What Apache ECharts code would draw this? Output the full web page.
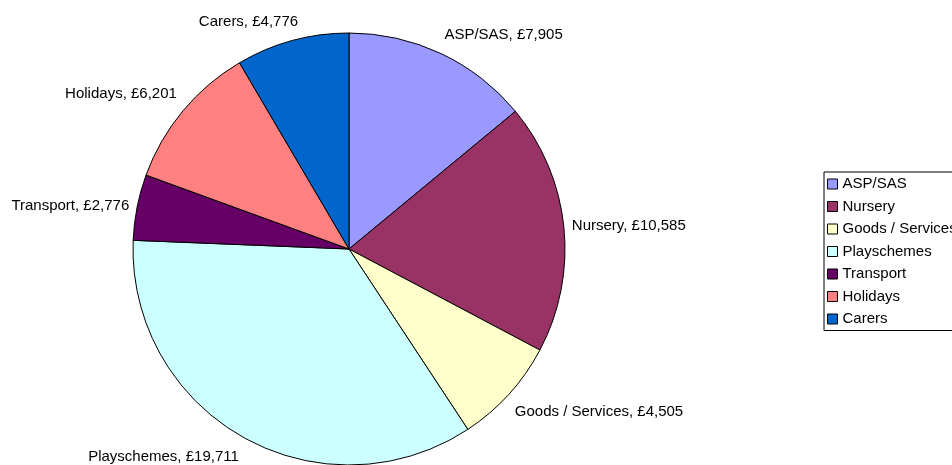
<!DOCTYPE html>
<html>
<head>
<meta charset="utf-8">
<script src="https://cdn.jsdelivr.net/npm/echarts@6/dist/echarts.min.js"></script>
<style>
html,body{margin:0;padding:0;background:#fff;}
#chart{width:952px;height:465px;}
</style>
</head>
<body>
<div id="chart"></div>
<script>
const categories = ['ASP/SAS', 'Nursery', 'Goods / Services', 'Playschemes', 'Transport', 'Holidays', 'Carers'];
const values = [7905, 10585, 4505, 19711, 2776, 6201, 4776];
const colors = ['#9999FF', '#993366', '#FFFFCC', '#CCFFFF', '#660066', '#FF8080', '#0066CC'];

const CX = 349, CY = 249, R = 216;
const total = values.reduce((a, b) => a + b, 0);
const fmt = v => '£' + v.toLocaleString('en-GB');
const FONT = 'Liberation Sans, Arial, sans-serif';

const chart = echarts.init(document.getElementById('chart'), null, {renderer: 'canvas'});
chart.setOption({
  animation: false,
  backgroundColor: '#ffffff',
  textStyle: {fontFamily: FONT},
  legend: {
    orient: 'vertical',
    left: 824,
    top: 172,
    data: categories,
    icon: 'rect',
    itemWidth: 10,
    itemHeight: 10,
    itemGap: 7.5,
    padding: [4.5, 40, 4, 3],
    borderColor: '#000',
    borderWidth: 1,
    itemStyle: {borderColor: '#000', borderWidth: 1},
    textStyle: {fontSize: 15, lineHeight: 15, color: '#000', fontFamily: FONT},
    selectedMode: false
  },
  series: [{
    type: 'pie',
    center: [CX, CY],
    radius: [0, R],
    startAngle: 90,
    clockwise: true,
    avoidLabelOverlap: false,
    data: categories.map((c, i) => ({name: c, value: values[i], itemStyle: {color: colors[i]}})),
    itemStyle: {borderColor: '#000', borderWidth: 1},
    label: {
      show: true,
      position: 'outside',
      formatter: p => p.name + ', ' + fmt(p.value),
      fontSize: 15,
      lineHeight: 15,
      color: '#000',
      fontFamily: FONT
    },
    labelLine: {show: false},
    emphasis: {disabled: true},
    labelLayout: function (params) {
      const i = params.dataIndex;
      let cum = 0;
      for (let j = 0; j < i; j++) cum += values[j];
      const mid = (cum + values[i] / 2) / total * Math.PI * 2;
      const s = Math.sin(mid), c = Math.cos(mid);
      const rr = R + 8;
      const px = CX + rr * s, py = CY - rr * c;
      const w = params.labelRect.width, h = params.labelRect.height;
      const xf = Math.min(1, Math.max(0, 0.5 - 1.6 * s));
      let y;
      if (Math.abs(c) < 0.3) y = py - h / 2;
      else if (c > 0) y = py - h - 4;
      else y = py + 5;
      return {x: px - xf * w, y: y, align: 'left', verticalAlign: 'top'};
    }
  }]
});
</script>
</body>
</html>
